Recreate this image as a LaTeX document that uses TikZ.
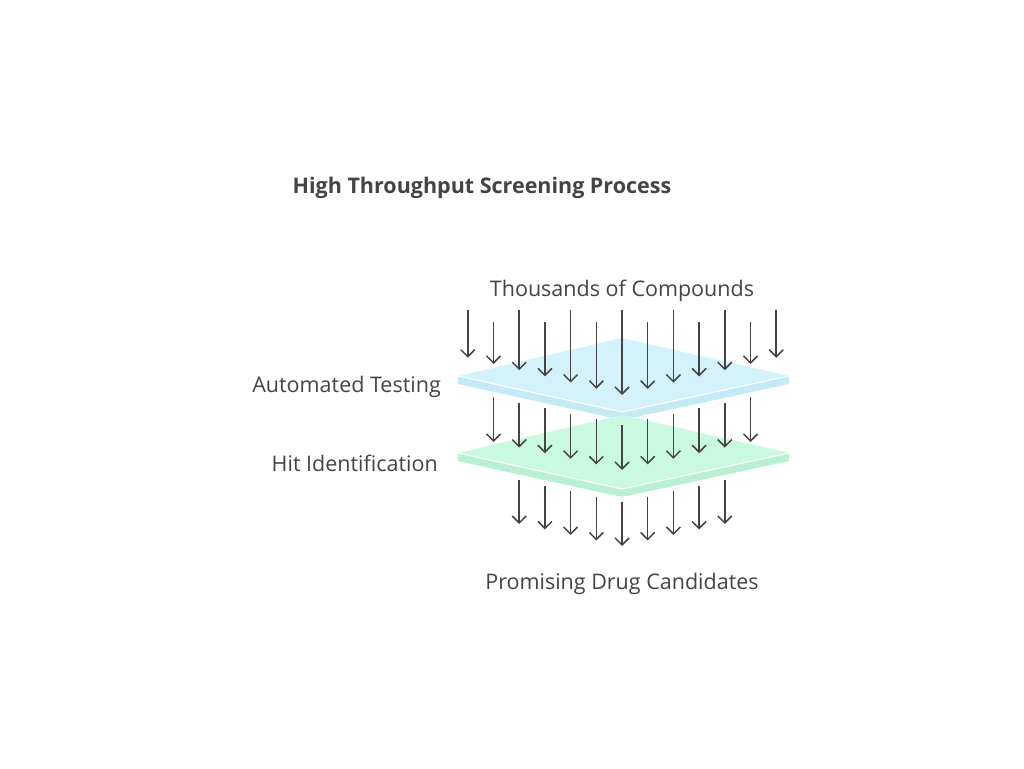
\documentclass[tikz,border=0pt]{standalone}
\usepackage{fontspec}
\setmainfont{Open Sans}
\usetikzlibrary{arrows.meta}
\definecolor{txtgray}{HTML}{444444}
\definecolor{blueface}{HTML}{D3F2FC}
\definecolor{blueside}{HTML}{C4EAF7}
\definecolor{greenface}{HTML}{C9F9E1}
\definecolor{greenside}{HTML}{B9F0D4}
\tikzset{
  flow/.style={-{Straight Barb[length=7pt,width=14pt]}, line width=1.5pt, draw=txtgray},
  label/.style={text=txtgray, font=\fontsize{21.5}{25}\selectfont, inner sep=0pt}
}
\begin{document}
\begin{tikzpicture}[x=1pt, y=-1pt]
    \useasboundingbox (0,0) rectangle (1024,768);

    % Title
    \node[label, font=\bfseries\fontsize{21.5}{25}\selectfont] (title) at (482,188) {High Throughput Screening Process};

    % Incoming compounds
    \node[label] (input) at (622,291) {Thousands of Compounds};
    \foreach \i in {-6,...,6} {
        \pgfmathsetmacro{\xx}{622+25.7*\i}
        \pgfmathsetmacro{\ys}{isodd(\i) ? 322 : 310}
        \pgfmathsetmacro{\ye}{395-6.2*abs(\i)}
        \coordinate (in\i) at (\xx,\ys);
        \coordinate (test\i) at (\xx,\ye);
    }

    % Automated testing layer
    \fill[blueside] (458,376) -- (458,384) -- (622,420) -- (789,384) -- (789,376) -- (622,412) -- cycle;
    \fill[blueface] (458,376) -- (622,338) -- (789,376) -- (622,412) -- cycle;
    \draw[white, line width=1.2pt] (458,376) -- (622,412) -- (789,376);
    \foreach \i in {-6,...,6} \draw[flow] (in\i) -- (test\i);
    \node[label, anchor=east] (testing) at (441,387) {Automated Testing};

    % Between the layers
    \foreach \i in {-5,...,5} {
        \pgfmathsetmacro{\xx}{622+25.7*\i}
        \pgfmathsetmacro{\ys}{425-5.6*abs(\i)}
        \coordinate (out\i) at (\xx,\ys);
        \coordinate (hit\i) at (\xx,\ys+45);
    }

    % Hit identification layer
    \fill[greenside] (458,453) -- (458,461) -- (622,497) -- (789,461) -- (789,453) -- (622,489) -- cycle;
    \fill[greenface] (458,453) -- (622,415) -- (789,453) -- (622,489) -- cycle;
    \draw[white, line width=1.2pt] (458,453) -- (622,489) -- (789,453);
    \foreach \i in {-5,...,5} \draw[flow] (out\i) -- (hit\i);
    \node[label, anchor=east] (hits) at (438,463) {Hit Identification};

    % Candidates
    \foreach \i in {-4,...,4} {
        \pgfmathsetmacro{\xx}{622+25.7*\i}
        \pgfmathsetmacro{\ys}{502-5.5*abs(\i)}
        \coordinate (sel\i) at (\xx,\ys);
        \coordinate (cand\i) at (\xx,\ys+44);
        \draw[flow] (sel\i) -- (cand\i);
    }
    \node[label] (output) at (622,584) {Promising Drug Candidates};
\end{tikzpicture}
\end{document}
